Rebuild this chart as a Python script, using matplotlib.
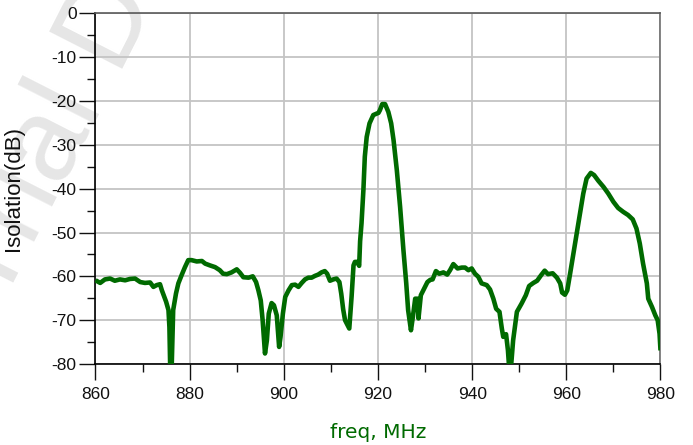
import matplotlib
matplotlib.use("Agg")
import matplotlib.pyplot as plt
from matplotlib.ticker import MultipleLocator

plt.rcParams["axes.unicode_minus"] = False

# Isolation vs frequency
freq_mhz = [
    860.0, 861.0, 862.0, 863.1, 864.1, 865.2, 866.3, 867.3, 868.4, 869.5,
    870.5, 871.6, 872.3, 873.0, 873.7, 874.1, 875.0, 875.5, 875.7, 875.85,
    876.2, 876.4, 876.5, 877.1, 877.6, 878.3, 879.0, 879.7, 880.4, 881.5,
    882.6, 883.3, 884.3, 885.4, 886.4, 887.1, 887.9, 888.9, 890.0, 890.7,
    891.4, 892.5, 893.4, 894.1, 894.6, 895.1, 895.5, 896.0, 896.4, 896.8,
    897.4, 897.9, 898.5, 899.0, 899.3, 899.8, 900.3, 901.0, 901.7, 902.4,
    903.1, 903.8, 904.5, 905.2, 905.9, 906.6, 907.3, 908.0, 908.7, 909.2,
    909.8, 910.5, 911.2, 911.8, 912.2, 912.6, 913.0, 913.9, 914.4, 914.8,
    915.1, 915.6, 916.0, 916.2, 916.5, 916.9, 917.2, 917.6, 918.2, 919.0,
    920.1, 920.4, 920.9, 921.5, 922.2, 922.8, 923.3, 924.0, 924.7, 925.4,
    926.0, 926.4, 927.0, 927.4, 927.9, 928.4, 928.6, 929.1, 929.8, 930.5,
    931.1, 931.6, 932.3, 933.0, 933.9, 934.7, 935.3, 936.0, 936.9, 937.8,
    938.5, 939.2, 939.9, 940.6, 941.3, 942.0, 943.1, 943.8, 944.5, 945.1,
    945.8, 946.3, 946.6, 947.2, 947.6, 947.8, 948.3, 948.7, 949.5, 950.5,
    951.4, 952.1, 953.0, 953.8, 954.6, 955.4, 956.1, 957.1, 958.0, 958.7,
    959.1, 959.7, 960.2, 960.8, 961.5, 962.2, 962.9, 963.6, 964.3, 965.2,
    965.9, 966.8, 967.9, 968.9, 970.0, 971.0, 972.1, 973.1, 974.1, 974.9,
    975.6, 976.3, 977.1, 977.4, 978.2, 978.9, 979.4, 979.8, 980.0,
]
isolation_db = [
    -60.9, -61.5, -60.7, -60.5, -61.0, -60.7, -60.9, -60.6, -60.5, -61.3,
    -61.5, -61.4, -62.4, -62.0, -61.8, -63.2, -65.8, -67.7, -71.6, -80.0,
    -80.0, -71.6, -67.7, -63.9, -61.6, -59.7, -57.9, -56.3, -56.3, -56.6,
    -56.5, -57.1, -57.5, -57.9, -58.6, -59.4, -59.5, -59.1, -58.4, -59.2,
    -60.2, -60.3, -60.0, -61.3, -63.2, -65.5, -70.0, -77.6, -74.6, -68.5,
    -66.1, -66.6, -68.9, -76.1, -73.8, -68.5, -64.7, -63.2, -62.0, -61.9,
    -62.4, -61.5, -60.7, -60.3, -60.3, -59.9, -59.6, -59.1, -58.8, -59.4,
    -61.0, -60.7, -60.5, -61.3, -64.0, -67.5, -70.0, -71.9, -64.5, -57.5,
    -56.7, -56.7, -57.6, -52.0, -47.9, -40.3, -32.7, -28.2, -25.1, -23.2,
    -22.7, -22.1, -20.7, -20.7, -22.5, -25.1, -28.9, -35.8, -44.2, -54.0,
    -61.6, -67.7, -72.3, -69.3, -65.1, -65.1, -69.6, -64.3, -62.8, -61.3,
    -60.8, -60.7, -58.8, -59.4, -59.1, -59.6, -58.6, -57.2, -58.2, -58.0,
    -58.0, -58.6, -58.2, -59.4, -60.1, -61.6, -62.0, -63.0, -65.1, -67.4,
    -68.1, -71.9, -73.8, -73.2, -76.9, -80.0, -80.0, -74.6, -68.1, -66.2,
    -64.3, -62.2, -61.5, -61.0, -59.8, -58.7, -59.5, -59.3, -60.3, -61.6,
    -63.7, -64.2, -63.2, -59.4, -54.8, -50.2, -45.7, -41.1, -37.7, -36.4,
    -36.9, -38.2, -39.6, -41.1, -43.0, -44.4, -45.3, -46.0, -47.0, -49.1,
    -52.5, -57.1, -61.6, -65.1, -67.0, -68.9, -70.0, -73.1, -76.9,
]

x_ticks = [860, 880, 900, 920, 940, 960, 980]
y_ticks = [0, -10, -20, -30, -40, -50, -60, -70, -80]

TRACE_GREEN = "#006a00"

fig = plt.figure(figsize=(6.93, 4.45), dpi=100)
ax = fig.add_axes([0.1378, 0.182, 0.8153, 0.788])
ax.set_facecolor("none")

# faint background watermark
fig.text(0.0, 0.305, "Trial Demo", rotation=63, rotation_mode="anchor",
         ha="left", va="baseline", fontsize=86, family="Liberation Sans",
         color="#e6e6e6", zorder=-5)

ax.plot(freq_mhz, isolation_db, color=TRACE_GREEN, linewidth=3.3,
        solid_joinstyle="round", solid_capstyle="butt", zorder=3)

ax.set_xlim(860, 980)
ax.set_ylim(-80, 0)
ax.set_xticks(x_ticks)
ax.set_yticks(y_ticks)
ax.xaxis.set_minor_locator(MultipleLocator(10))
ax.yaxis.set_minor_locator(MultipleLocator(5))

ax.grid(True, which="major", color="#c4c4c4", linewidth=1.3, zorder=1)
ax.set_axisbelow(True)

ax.tick_params(axis="both", which="major", direction="out", length=11.5,
               width=1.0, color="#111111", labelsize=12.5, labelcolor="#111111")
ax.tick_params(axis="both", which="minor", direction="out", length=5.8,
               width=1.0, color="#111111")
ax.tick_params(axis="y", which="major", pad=2)
ax.tick_params(axis="x", which="major", pad=5)
for lbl in ax.get_xticklabels() + ax.get_yticklabels():
    lbl.set_family("Liberation Sans")

ax.spines["left"].set_color("#000000")
ax.spines["bottom"].set_color("#000000")
ax.spines["top"].set_color("#5a5a5a")
ax.spines["right"].set_color("#6e6e6e")
for s in ax.spines.values():
    s.set_linewidth(1.2)

ax.set_ylabel("Isolation(dB)", fontsize=16, family="Liberation Sans",
              color="#111111")
ax.yaxis.set_label_coords(-0.1265, 0.5)
ax.set_xlabel("freq, MHz", fontsize=14.5, family="DejaVu Sans",
              color=TRACE_GREEN, va="center")
ax.xaxis.set_label_coords(0.5, -0.194)

fig.savefig("out.png", dpi=100)
